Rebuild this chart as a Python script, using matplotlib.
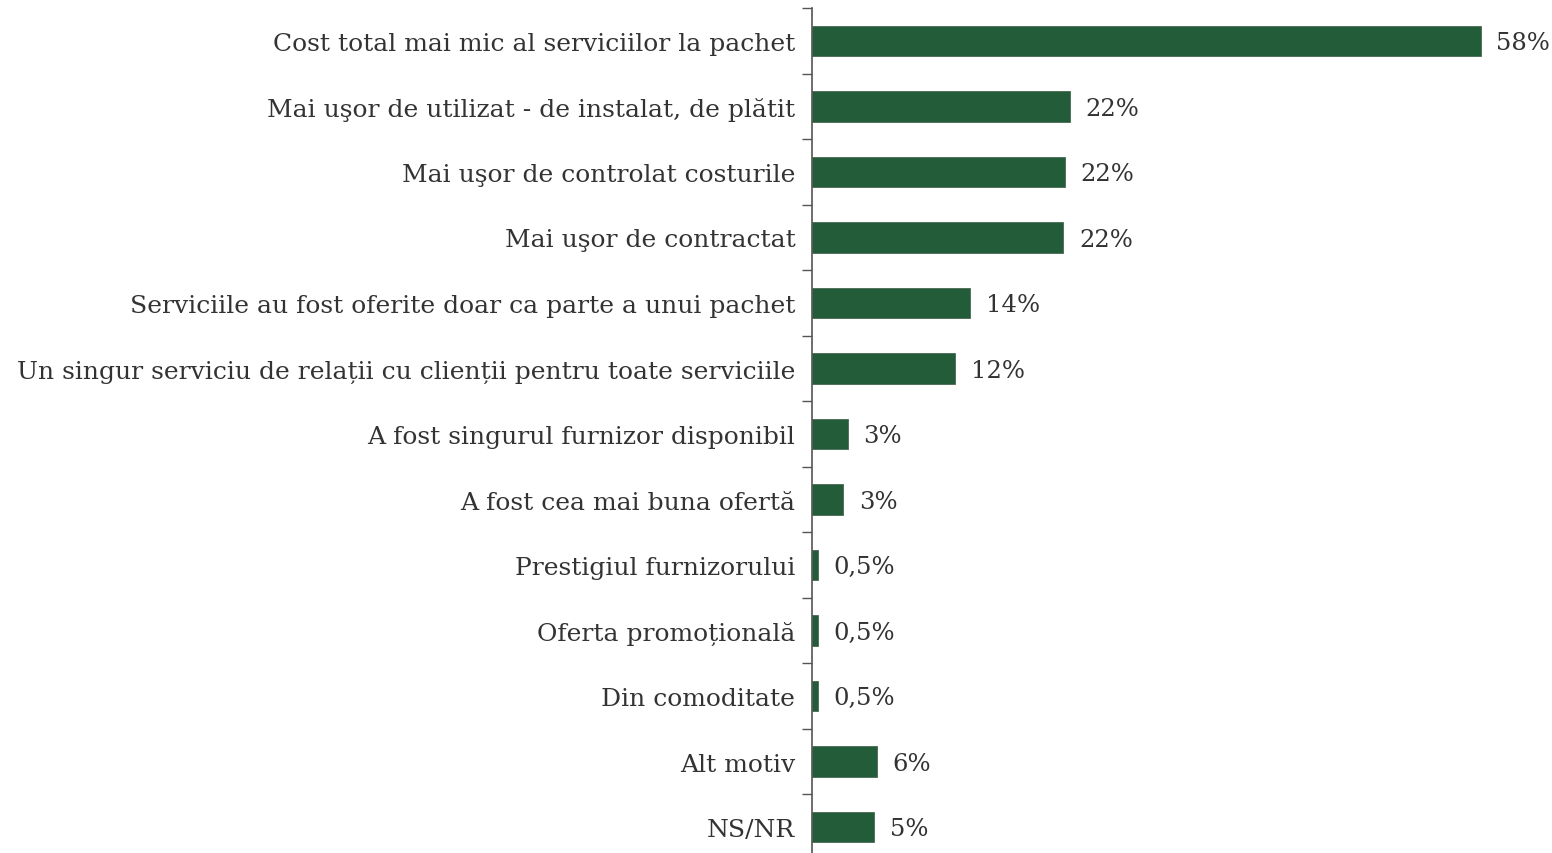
import matplotlib
matplotlib.use("Agg")
import matplotlib.pyplot as plt
import numpy as np

categories = [
    "Cost total mai mic al serviciilor la pachet",
    "Mai uşor de utilizat - de instalat, de plătit",
    "Mai uşor de controlat costurile",
    "Mai uşor de contractat",
    "Serviciile au fost oferite doar ca parte a unui pachet",
    "Un singur serviciu de relații cu clienții pentru toate serviciile",
    "A fost singurul furnizor disponibil",
    "A fost cea mai buna ofertă",
    "Prestigiul furnizorului",
    "Oferta promoțională",
    "Din comoditate",
    "Alt motiv",
    "NS/NR",
]
values = [58, 22.4, 21.9, 21.8, 13.7, 12.4, 3.1, 2.7, 0.5, 0.5, 0.5, 5.6, 5.4]
value_labels = ["58%", "22%", "22%", "22%", "14%", "12%", "3%", "3%",
                "0,5%", "0,5%", "0,5%", "6%", "5%"]

W, H = 1552, 854
fig = plt.figure(figsize=(W / 100, H / 100), dpi=100)
plt.rcParams['font.family'] = ['DejaVu Serif']

left = 812 / W
top = 1 - 9.25 / H
bottom = 1 - 860.75 / H
ax = fig.add_axes([left, bottom, 1 - left, top - bottom])

y = np.arange(len(categories))
bar_color = '#225c39'
ax.barh(y, values, height=0.46, color=bar_color, edgecolor='#4a6a55', linewidth=0.6)

xmax = (W - 812) / 11.53
ax.set_xlim(0, xmax)
ax.set_ylim(len(categories) - 0.5, -0.5)

text_color = '#333333'
for yi, v, lab in zip(y, values, value_labels):
    ax.text(v + 1.35, yi + 0.03, lab, va='center', ha='left', fontsize=17.5, color=text_color)

ax.set_yticks(y)
ax.set_yticklabels(categories, fontsize=18, color=text_color)
ax.tick_params(axis='y', which='major', length=0, pad=12)
ax.set_yticks(np.arange(-0.5, len(categories), 1.0), minor=True)
ax.tick_params(axis='y', which='minor', length=7, width=1, color='#555555', direction='out')
ax.set_xticks([])

for s in ['top', 'right', 'bottom']:
    ax.spines[s].set_visible(False)
ax.spines['left'].set_color('#555555')
ax.spines['left'].set_linewidth(1.2)

fig.savefig("out.png", dpi=100)
